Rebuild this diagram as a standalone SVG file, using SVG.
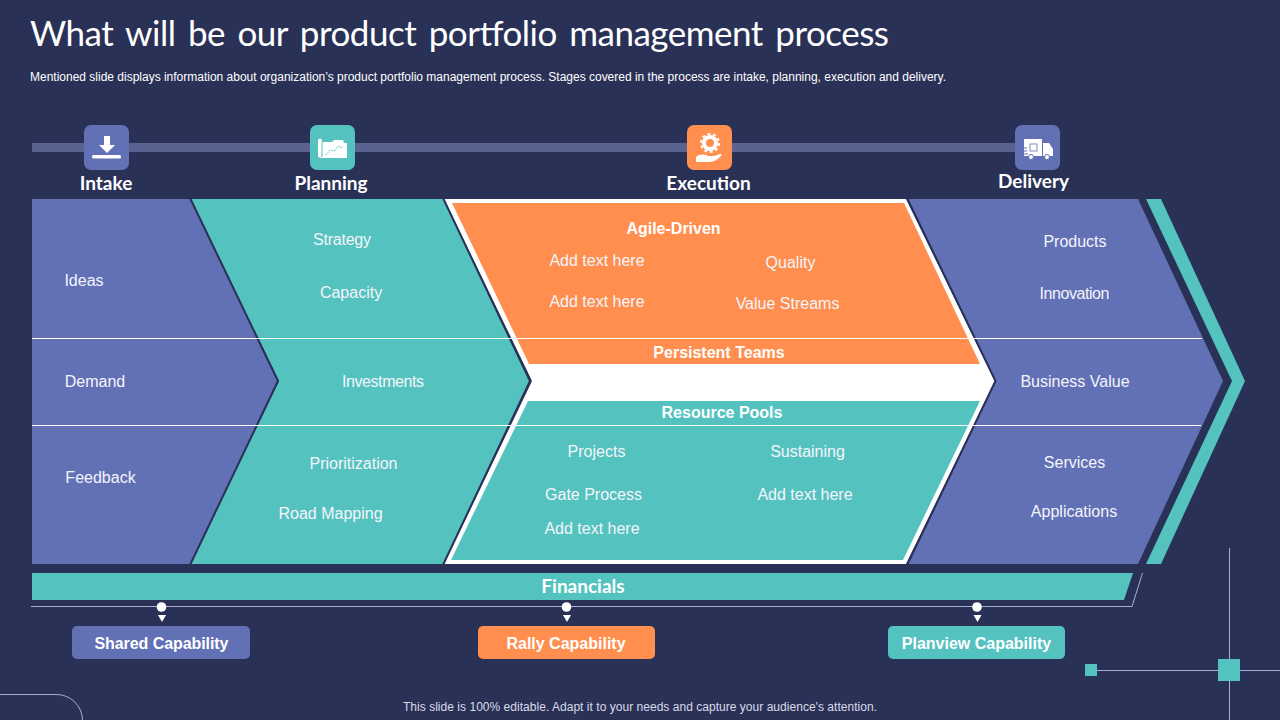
<svg xmlns="http://www.w3.org/2000/svg" width="1280" height="720" viewBox="0 0 1280 720">
<style>
.b{font-family:"Liberation Sans",Arial,sans-serif;font-size:16px;fill:#f4f5fb;text-anchor:middle}
.h{font-family:"Lato","Noto Sans",sans-serif;font-size:19px;font-weight:700;fill:#fff;text-anchor:middle}
.s{font-family:"Liberation Sans",Arial,sans-serif;font-size:16px;font-weight:700;fill:#fff;text-anchor:middle}
.th{fill:none;stroke:#a9aed6;stroke-width:1}
.blue{fill:#6270b5}.teal{fill:#54c2bf}.or{fill:#ff8e4f}
</style>
<rect width="1280" height="720" fill="#2a3157"/>
<text x="30" y="46" font-family="Lato,'Noto Sans',sans-serif" font-size="35" word-spacing="4" fill="#fff" textLength="859" lengthAdjust="spacing">What will be our product portfolio management process</text>
<text x="30" y="81" font-family="'Liberation Sans',Arial,sans-serif" font-size="12" fill="#fff" textLength="916" lengthAdjust="spacing">Mentioned slide displays information about organization’s product portfolio management process. Stages covered in the process are intake, planning, execution and delivery.</text>

<g id="financials">
<polygon class="teal" points="32,573 1133,573 1124,600 32,600"/>
<path class="th" d="M31 606.500H1132L1142.500 573"/>
<text class="h" x="583" y="593">Financials</text>
</g>

<g id="connectors">
<rect x="32" y="143" width="1000" height="9" fill="#5a6290"/>
<g fill="#fff">
<circle cx="161.500" cy="607" r="4.800"/><path d="M158 615h8l-4 7z"/>
<circle cx="566.500" cy="607" r="4.800"/><path d="M563 615h8l-4 7z"/>
<circle cx="977" cy="607" r="4.800"/><path d="M973.500 615h8l-4 7z"/>
</g>
</g>

<g id="intake">
<polygon class="blue" points="32,199 190,199 278,381 190,564 32,564"/>
<text class="b" x="84" y="286">Ideas</text>
<text class="b" x="95" y="387">Demand</text>
<text class="b" x="100.500" y="483">Feedback</text>
</g>
<g id="planning">
<polygon class="teal" points="191,199 443,199 530,381 443,564 191,564 279,381"/>
<text class="b" x="342" y="245" textLength="58">Strategy</text>
<text class="b" x="351" y="298">Capacity</text>
<text class="b" x="383" y="387" textLength="82">Investments</text>
<text class="b" x="353.500" y="469">Prioritization</text>
<text class="b" x="330.500" y="519">Road Mapping</text>
</g>
<g id="execution">
<polygon fill="#fff" points="444,199 906,199 995,381 906,564 444,564 532,381"/>
<polygon class="or" points="452,203 904,203 980,364 529,364"/>
<polygon class="teal" points="528,401 980,401 903,560 451,560"/>
<text class="s" x="673.500" y="234">Agile-Driven</text>
<text class="b" x="597" y="266">Add text here</text>
<text class="b" x="790.500" y="268">Quality</text>
<text class="b" x="597" y="307">Add text here</text>
<text class="b" x="787.500" y="309">Value Streams</text>
<text class="s" x="719" y="358">Persistent Teams</text>
<text class="s" x="722" y="418">Resource Pools</text>
<text class="b" x="596.500" y="457">Projects</text>
<text class="b" x="807.500" y="457">Sustaining</text>
<text class="b" x="593.500" y="500">Gate Process</text>
<text class="b" x="805" y="500">Add text here</text>
<text class="b" x="592" y="534">Add text here</text>
</g>
<g id="delivery">
<polygon class="blue" points="908,199 1138,199 1223,381 1138,564 908,564 996,381"/>
<polygon class="teal" points="1146,199 1161,199 1245,381 1161,564 1146,564 1232,381"/>
<text class="b" x="1075" y="247">Products</text>
<text class="b" x="1074.500" y="299" textLength="70">Innovation</text>
<text class="b" x="1075" y="387">Business Value</text>
<text class="b" x="1074.500" y="468">Services</text>
<text class="b" x="1074" y="517">Applications</text>
</g>
<g id="dark-edges" fill="none" stroke="#2a3157" stroke-width="2">
<path d="M190 198L278 381L190 565"/>
<path d="M443 198L530 381L443 565"/>
<path d="M907 198L995.500 381L907 565"/>
</g>
<g id="dividers" stroke="#fff" stroke-width="1">
<path d="M32 338.500H1202M32 425.500H1201"/>
</g>

<g id="step-intake">
<rect x="84" y="125" width="45" height="45" rx="7" class="blue"/>
<path d="M104 136h6v9h5l-8 8-8-8h5z" fill="#fff"/>
<rect x="92" y="155" width="29" height="3.500" rx="1.500" fill="#fff"/>
<text class="h" x="106" y="190">Intake</text>
</g>
<g id="step-planning">
<rect x="310" y="125" width="45" height="45" rx="7" class="teal"/>
<path d="M318 140q2-3 4 0v2h10l2-2h9l1 3h3v15h-25l-4-1z" fill="#fff"/>
<path d="M322 142v15" stroke="#54c2bf" stroke-width="1"/>
<path d="M326 155l4-5 5 1 3-5 5 2" fill="none" stroke="#54c2bf" stroke-width="1" stroke-dasharray="1.500 1"/>
<text class="h" x="331" y="190">Planning</text>
</g>
<g id="step-execution">
<rect x="687" y="125" width="45" height="45" rx="7" class="or"/>
<circle cx="710" cy="143" r="6" fill="none" stroke="#fff" stroke-width="4"/>
<circle cx="710" cy="143" r="9" fill="none" stroke="#fff" stroke-width="2" stroke-dasharray="3 2.650"/>
<circle cx="710" cy="143" r="2" fill="none" stroke="#ff8e4f" stroke-width="1"/>
<path d="M696 157c4-3 8-3 12-1h6l6-2c2 0 2 1 1 2-3 3-7 6-12 6h-13z" fill="#fff"/>
<text class="h" x="708.500" y="190">Execution</text>
</g>
<g id="step-delivery">
<rect x="1015" y="125" width="45" height="45" rx="7" class="blue"/>
<path d="M1024 139h18v17h-18zM1043 143h6l4 6v7h-10z" fill="#fff"/>
<path d="M1021 148h6M1021 151h6M1022 154h6" stroke="#6270b5" stroke-width="1"/>
<circle cx="1031" cy="157" r="2.500" fill="#fff" stroke="#6270b5"/><circle cx="1047" cy="157" r="2.500" fill="#fff" stroke="#6270b5"/>
<rect x="1030" y="144" width="7" height="7" fill="none" stroke="#6270b5" stroke-width="0.800"/>
<text class="h" x="1033.500" y="188">Delivery</text>
</g>

<g id="shared-capability">
<rect x="72" y="626" width="178" height="33" rx="5" class="blue"/>
<text class="s" x="161.500" y="649" textLength="134">Shared Capability</text>
</g>
<g id="rally-capability">
<rect x="478" y="626" width="177" height="33" rx="5" class="or"/>
<text class="s" x="566" y="649">Rally Capability</text>
</g>
<g id="planview-capability">
<rect x="888" y="626" width="177" height="33" rx="5" class="teal"/>
<text class="s" x="976.500" y="649">Planview Capability</text>
</g>

<g id="decor">
<path class="th" d="M1229.500 548V720M1097 670.500H1280"/>
<rect x="1218" y="659" width="22" height="22" class="teal"/>
<rect x="1085" y="664" width="12" height="12" class="teal"/>
<path class="th" d="M0 694.500H56A26 26 0 0 1 82.500 720"/>
</g>
<text x="640" y="711" font-family="'Liberation Sans',Arial,sans-serif" font-size="12" fill="#d9dbe8" text-anchor="middle" textLength="474">This slide is 100% editable. Adapt it to your needs and capture your audience's attention.</text>
</svg>
